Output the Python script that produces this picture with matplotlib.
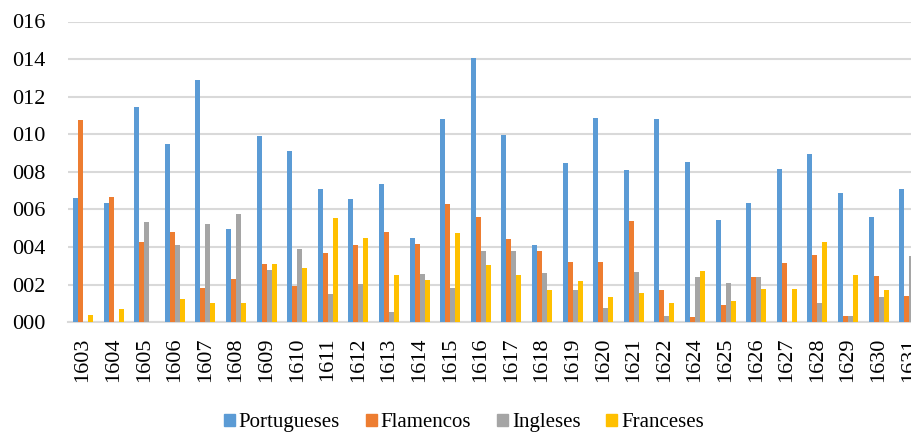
import matplotlib.pyplot as plt
import numpy as np
from matplotlib.patches import Patch
from matplotlib.ticker import FuncFormatter

years = ['1603', '1604', '1605', '1606', '1607', '1608', '1609', '1610', '1611', '1612',
         '1613', '1614', '1615', '1616', '1617', '1618', '1619', '1620', '1621', '1622',
         '1624', '1625', '1626', '1627', '1628', '1629', '1630', '1631']

portugueses = [6.62, 6.33, 11.46, 9.49, 12.90, 4.97, 9.91, 9.12, 7.08, 6.55,
               7.36, 4.50, 10.80, 14.05, 9.95, 4.11, 8.49, 10.87, 8.09, 10.82,
               8.52, 5.44, 6.33, 8.14, 8.97, 6.86, 5.62, 7.11]
flamencos = [10.77, 6.69, 4.27, 4.81, 1.83, 2.32, 3.08, 1.95, 3.67, 4.11,
             4.81, 4.17, 6.31, 5.60, 4.42, 3.81, 3.21, 3.23, 5.39, 1.72,
             0.28, 0.92, 2.39, 3.16, 3.57, 0.34, 2.45, 1.40]
ingleses = [0, 0, 5.35, 4.10, 5.23, 5.75, 2.80, 3.90, 1.51, 2.04,
            0.53, 2.57, 1.81, 3.79, 3.79, 2.62, 1.72, 0.78, 2.68, 0.32,
            2.41, 2.11, 2.39, 0, 1.04, 0.34, 1.36, 3.53]
franceses = [0.40, 0.71, 0, 1.24, 1.03, 1.03, 3.08, 2.91, 5.53, 4.47,
             2.52, 2.24, 4.74, 3.05, 2.50, 1.74, 2.21, 1.33, 1.54, 1.01,
             2.71, 1.15, 1.77, 1.77, 4.29, 2.50, 1.72, 1.50]

series = [('Portugueses', portugueses, '#5B9BD5'),
          ('Flamencos', flamencos, '#ED7D31'),
          ('Ingleses', ingleses, '#A5A5A5'),
          ('Franceses', franceses, '#FFC000')]

plt.rcParams['font.family'] = ['Liberation Serif', 'DejaVu Serif']

fig = plt.figure(figsize=(9.12, 4.32), dpi=100)
ax = fig.add_axes([67.7 / 912, 1 - 322.3 / 432, 1 - 67.7 / 912, 300.8 / 432])

x = np.arange(len(years))
w = 0.163
for i, (name, vals, col) in enumerate(series):
    ax.bar(x + (i - 1.5) * w, vals, width=w, color=col, zorder=3)

ax.set_xlim(-0.5, 27.09)
ax.set_ylim(0, 16)
ax.set_yticks(np.arange(0, 17, 2))
ax.yaxis.set_major_formatter(FuncFormatter(lambda v, p: '%03d' % v))
ax.grid(axis='y', color='#D9D9D9', linewidth=1.5, zorder=0)
ax.set_xticks(x)
ax.set_xticklabels(years, rotation=90)
ax.tick_params(axis='both', length=0, labelsize=16)
ax.tick_params(axis='x', pad=11)
ax.tick_params(axis='y', pad=16)
for s in ['top', 'right', 'left']:
    ax.spines[s].set_visible(False)
ax.spines['bottom'].set_color('#D9D9D9')
ax.spines['bottom'].set_linewidth(1.5)

handles = [Patch(color=col, label=name) for name, vals, col in series]
fig.legend(handles=handles, loc='center', bbox_to_anchor=(464 / 912, 0.022), ncol=4,
           frameon=False, fontsize=15, handlelength=0.5, handleheight=0.5,
           handletextpad=0.2, columnspacing=1.25)

fig.savefig('out.png', dpi=100)
